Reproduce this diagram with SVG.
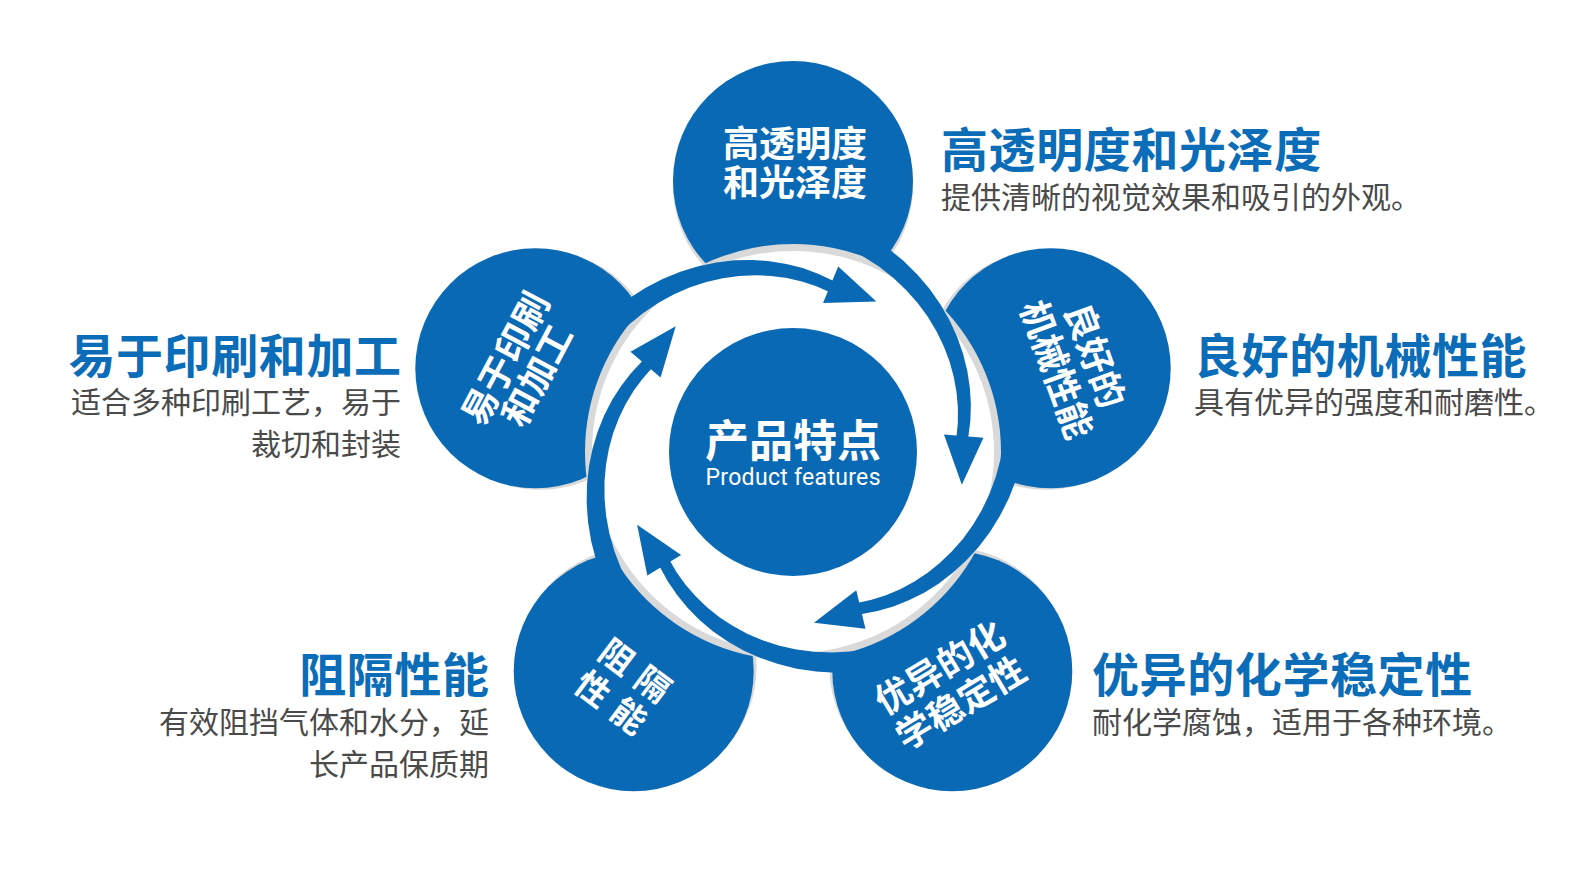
<svg xmlns="http://www.w3.org/2000/svg" width="1576" height="884" viewBox="0 0 1576 884">
<style>
.petal{fill:#0a69b4}
.shade{fill:#d9d9d9}
.lbl{font-family:"Noto Sans CJK SC","Noto Sans",sans-serif;font-weight:700;font-size:36px;fill:#ffffff;text-anchor:middle}
.ttl{font-family:"Noto Sans CJK SC","Noto Sans",sans-serif;font-weight:700;font-size:47px;letter-spacing:0.6px;fill:#0b6cb8}
.dsc{font-family:"Noto Sans CJK SC","Noto Sans",sans-serif;font-weight:400;font-size:30px;fill:#4a4a4a}
.end{text-anchor:end}
.arrow{fill:#0a69b4}
</style>
<defs>
<g id="arrow">
<path d="M225.06,60.31 L215.12,78.30 L203.79,95.03 L191.21,110.40 L177.52,124.30 L162.89,136.68 L147.48,147.48 L131.45,156.66 L114.96,164.18 L98.18,170.05 L81.27,174.27 L64.37,176.86 L47.66,177.87 L31.27,177.34 L15.34,175.33 L9.13,174.16 L8.52,162.48 L14.29,163.38 L29.06,164.82 L44.18,164.89 L59.54,163.57 L74.99,160.81 L90.40,156.57 L105.62,150.84 L120.52,143.63 L134.96,134.96 L148.77,124.84 L161.84,113.32 L174.01,100.47 L185.15,86.34 L195.12,71.02 L203.81,54.61 Z"/>
<path d="M14.32,190.46 L-32.82,168.84 L17.47,150.99 Z"/>
</g>
</defs>
<rect x="0" y="0" width="1576" height="884" fill="#ffffff"/>

<g id="node-top">
<circle class="shade" cx="793" cy="186" r="120"/>
<circle class="petal" cx="793" cy="181" r="120"/>
<text class="lbl" x="795" y="157">高透明度</text>
<text class="lbl" x="795" y="196">和光泽度</text>
<text class="ttl" x="941" y="167">高透明度和光泽度</text>
<text class="dsc" x="941" y="208">提供清晰的视觉效果和吸引的外观。</text>
</g>

<g id="node-right">
<circle class="shade" cx="1046" cy="369.8" r="120"/>
<circle class="petal" cx="1050.7" cy="368.3" r="120"/>
<g transform="translate(1076 362.5) rotate(70)">
<text class="lbl" x="0" y="-7">良好的</text>
<text class="lbl" x="0" y="34">机械性能</text>
</g>
<text class="ttl" x="1194" y="373">良好的机械性能</text>
<text class="dsc" x="1194" y="413">具有优异的强度和耐磨性。</text>
</g>

<g id="node-bottom-right">
<circle class="shade" cx="949.4" cy="667.2" r="120"/>
<circle class="petal" cx="952.3" cy="671.2" r="120"/>
<g transform="translate(950 685) rotate(-31)">
<text class="lbl" x="0" y="-7">优异的化</text>
<text class="lbl" x="0" y="34">学稳定性</text>
</g>
<text class="ttl" x="1092" y="692">优异的化学稳定性</text>
<text class="dsc" x="1092" y="733">耐化学腐蚀，适用于各种环境。</text>
</g>

<g id="node-bottom-left">
<circle class="shade" cx="636.6" cy="667.2" r="120"/>
<circle class="petal" cx="633.7" cy="671.2" r="120"/>
<g transform="translate(623 686.5) rotate(37)">
<text class="lbl" x="5.5" y="-7.4" style="font-size:34px;letter-spacing:11px">阻隔</text>
<text class="lbl" x="5.5" y="32.6" style="font-size:34px;letter-spacing:11px">性能</text>
</g>
<text class="ttl end" x="489.6" y="692">阻隔性能</text>
<text class="dsc end" x="489" y="733">有效阻挡气体和水分，延</text>
<text class="dsc end" x="489" y="775">长产品保质期</text>
</g>

<g id="node-left">
<circle class="shade" cx="540" cy="369.8" r="120"/>
<circle class="petal" cx="535.3" cy="368.3" r="120"/>
<g transform="translate(521 367) rotate(-62)">
<text class="lbl" x="0" y="-4.7">易于印刷</text>
<text class="lbl" x="0" y="31.3">和加工</text>
</g>
<text class="ttl end" x="401.6" y="372.5">易于印刷和加工</text>
<text class="dsc end" x="401" y="413">适合多种印刷工艺，易于</text>
<text class="dsc end" x="401" y="455">裁切和封装</text>
</g>

<g id="ring">
<circle cx="793" cy="452" r="208" fill="#d9d9d9"/>
<circle cx="793" cy="452" r="201" fill="#ffffff"/>
</g>

<g id="connectors" class="arrow">
<use href="#arrow" transform="translate(793 452) rotate(-90)"/>
<use href="#arrow" transform="translate(793 452) rotate(-18)"/>
<use href="#arrow" transform="translate(793 452) rotate(54)"/>
<use href="#arrow" transform="translate(793 452) rotate(126)"/>
<use href="#arrow" transform="translate(793 452) rotate(198)"/>
</g>

<g id="node-center">
<circle class="petal" cx="793" cy="452" r="124"/>
<text class="lbl" x="793" y="457" style="font-size:44px">产品特点</text>
<text x="793" y="485" text-anchor="middle" textLength="175" lengthAdjust="spacing" style="font-family:Roboto,'Liberation Sans',sans-serif;font-weight:400;font-size:23px;fill:#ffffff">Product features</text>
</g>
</svg>
